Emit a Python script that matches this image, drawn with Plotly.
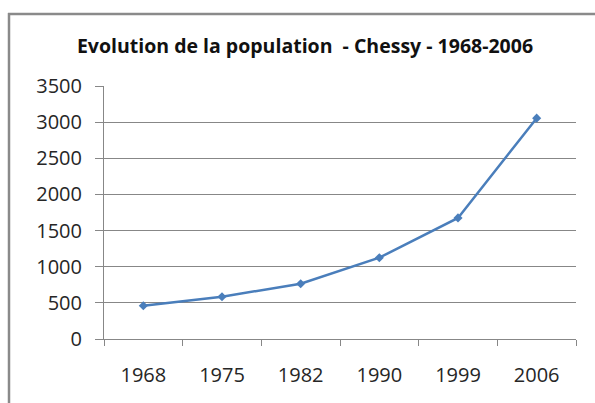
import plotly.graph_objects as go

years = ["1968", "1975", "1982", "1990", "1999", "2006"]
population = [460, 585, 765, 1125, 1675, 3055]
y_ticks = [0, 500, 1000, 1500, 2000, 2500, 3000, 3500]
title_text = "Evolution de la population  - Chessy - 1968-2006"

W, H = 595, 403
# plot area in pixels: x 104..576, y 86..339
L, T = 104, 86
R = W - 576
B = H - 339
pw, ph = W - L - R, H - T - B

def px_x(x):
    return (x - L) / pw

def px_y(y):
    return (H - B - y) / ph

grid = "#878787"
font_family = "Open Sans, Noto Sans, Liberation Sans, sans-serif"

fig = go.Figure()
fig.add_trace(go.Scatter(
    x=years, y=population, mode="lines+markers",
    line=dict(color="#4a7ebb", width=2.5),
    marker=dict(symbol="diamond", size=7, color="#4a7ebb"),
    showlegend=False,
))

fig.update_layout(
    width=W, height=H,
    margin=dict(l=L, r=R, t=T, b=B, pad=0, autoexpand=False),
    paper_bgcolor="white", plot_bgcolor="white",
    font=dict(family=font_family, color="#262626"),
    title=dict(
        text="<b>" + title_text + "</b>",
        x=305 / W, xanchor="center",
        y=1 - 46 / H, yanchor="middle",
        font=dict(size=19.5, family=font_family, color="#111111"),
    ),
    xaxis=dict(
        type="category", range=[-0.5, 5.5],
        tickson="boundaries", ticks="outside", ticklen=6, tickwidth=1, tickcolor=grid,
        showline=True, linecolor=grid, linewidth=1,
        showgrid=False, zeroline=False, automargin=False,
        tickfont=dict(size=20, color="#262626"),
        ticklabelstandoff=18,
    ),
    yaxis=dict(
        range=[0, 3500], tickvals=y_ticks,
        ticks="outside", ticklen=8, tickwidth=1, tickcolor=grid,
        showline=True, linecolor=grid, linewidth=1,
        showgrid=True, gridcolor=grid, gridwidth=1,
        zeroline=False, automargin=False,
        tickfont=dict(size=20, color="#262626"),
        ticklabelstandoff=9,
    ),
)

# outer chart frame: top and left edges (the rest lies outside the view)
frame = dict(color="#8a8a8a", width=2.5)
fig.add_shape(type="line", xref="paper", yref="paper",
              x0=px_x(8), x1=px_x(W + 2), y0=px_y(14), y1=px_y(14),
              line=frame, layer="below")
fig.add_shape(type="line", xref="paper", yref="paper",
              x0=px_x(9), x1=px_x(9), y0=px_y(13), y1=px_y(H + 2),
              line=frame, layer="below")

fig.write_html(
    "out.html",
    config={"displayModeBar": False},
    post_script="document.body.style.margin='0';document.body.style.overflow='hidden';",
)
